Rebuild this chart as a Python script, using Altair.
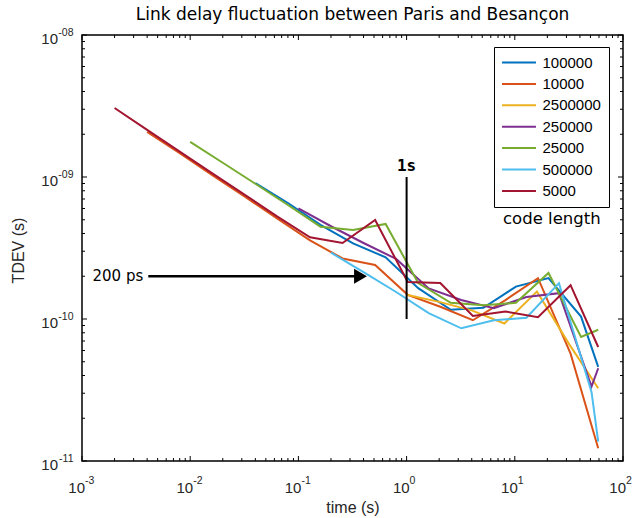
import altair as alt
import pandas as pd

TITLE = "Link delay fluctuation between Paris and Besançon"

series_names = ["100000", "10000", "2500000", "250000", "25000", "500000", "5000"]
series_colors = ["#0072BD", "#D95319", "#EDB120", "#7E2F8E", "#77AC30", "#4DBEEE", "#A2142F"]

tau_100000 = [0.04, 0.08, 0.16, 0.32, 0.64, 1.28, 2.56, 5.12, 10.24, 20.48, 40.96, 59]
tdev_100000 = [9.07e-10, 6.56e-10, 4.6e-10, 3.41e-10, 2.72e-10, 1.65e-10, 1.16e-10, 1.2e-10,
               1.69e-10, 1.94e-10, 1.04e-10, 4.6e-11]

tau_10000 = [0.004, 0.008, 0.016, 0.032, 0.064, 0.128, 0.256, 0.512, 1.024, 2.048, 4.096,
             8.192, 16.384, 32.768, 59]
tdev_10000 = [2.08e-9, 1.47e-9, 1.03e-9, 7.26e-10, 5.09e-10, 3.58e-10, 2.67e-10, 2.4e-10,
              1.48e-10, 1.22e-10, 9.8e-11, 1.36e-10, 1.94e-10, 5.7e-11, 1.23e-11]

tau_2500000 = [1, 2, 4, 8, 16, 32, 59]
tdev_2500000 = [1.48e-10, 1.32e-10, 1.15e-10, 9.3e-11, 1.56e-10, 6.6e-11, 3.25e-11]

tau_250000 = [0.1, 0.2, 0.4, 0.8, 1.6, 3.2, 6.4, 12.8, 25.6, 51.2, 59]
tdev_250000 = [6.02e-10, 4.5e-10, 3.43e-10, 2.65e-10, 1.64e-10, 1.36e-10, 1.19e-10, 1.43e-10,
               1.52e-10, 3.34e-11, 4.5e-11]

tau_25000 = [0.01, 0.02, 0.04, 0.08, 0.16, 0.32, 0.64, 1.28, 2.56, 5.12, 10.24, 20.48, 40.96, 59]
tdev_25000 = [1.77e-9, 1.26e-9, 8.96e-10, 6.35e-10, 4.47e-10, 4.24e-10, 4.67e-10, 1.79e-10,
              1.30e-10, 1.25e-10, 1.30e-10, 2.11e-10, 7.47e-11, 8.4e-11]

tau_500000 = [0.2, 0.4, 0.8, 1.6, 3.2, 6.4, 12.8, 25.6, 51.2, 59]
tdev_500000 = [2.93e-10, 2.14e-10, 1.55e-10, 1.10e-10, 8.6e-11, 9.8e-11, 1.02e-10, 1.79e-10,
               3.05e-11, 1.37e-11]

tau_5000 = [0.002, 0.004, 0.008, 0.016, 0.032, 0.064, 0.128, 0.256, 0.512, 1.024, 2.048,
            4.096, 8.192, 16.384, 32.768, 59]
tdev_5000 = [3.06e-9, 2.15e-9, 1.51e-9, 1.06e-9, 7.49e-10, 5.26e-10, 3.76e-10, 3.43e-10,
             4.98e-10, 1.82e-10, 1.79e-10, 1.05e-10, 1.13e-10, 1.03e-10, 1.73e-10, 6.35e-11]

# tick labels: base "10" with a superscript exponent
x_major = [0.001, 0.01, 0.1, 1, 10, 100]
x_exponents = ["-3", "-2", "-1", "0", "1", "2"]
y_major = [1e-11, 1e-10, 1e-9, 1e-8]
y_exponents = ["-11", "-10", "-09", "-08"]
tick_base = "10"
minor_multipliers = [2, 3, 4, 5, 6, 7, 8, 9]

# annotations
vline_tau = [1]
vline_lo = [1e-10]
vline_hi = [1e-9]
label_1s = ["1s"]
label_1s_y = [1.2e-9]
arrow_from = [0.0041]
arrow_to = [0.36]
arrow_tip = [0.375]
arrow_level = [2e-10]
arrow_text = ["200 ps"]
arrow_text_x = [0.00125]
legend_title = ["code length"]
legend_title_x = [22]
legend_title_y = [5.1e-10]

W, H = 541, 426
AX = "#262626"
MAJOR_LEN, MINOR_LEN = 5, 3

taus = [tau_100000, tau_10000, tau_2500000, tau_250000, tau_25000, tau_500000, tau_5000]
vals = [tdev_100000, tdev_10000, tdev_2500000, tdev_250000, tdev_25000, tdev_500000, tdev_5000]
rows = []
for name, ts, vs in zip(series_names, taus, vals):
    for i, (t, v) in enumerate(zip(ts, vs)):
        rows.append({"code": name, "tau": t, "tdev": v, "idx": i})
df = pd.DataFrame(rows)

x_minor = [m * d for d in x_major[:-1] for m in minor_multipliers]
y_minor = [m * d for d in y_major[:-1] for m in minor_multipliers]


def label_expr(values, labels):
    expr = "''"
    for v, lab in reversed(list(zip(values, labels))):
        expr = f"datum.value == {v!r} ? '{lab}' : ({expr})"
    return expr


xs = alt.Scale(type="log", domain=[x_major[0], x_major[-1]], nice=False)
ys = alt.Scale(type="log", domain=[y_major[0], y_major[-1]], nice=False)

LAB = dict(ticks=False, domain=False, grid=False, labelFont="Liberation Sans",
           labelColor=AX, labelFlush=False, labelOverlap=False)

# main axes: the "10" part of the labels plus axis titles
x_main = alt.Axis(orient="bottom", values=x_major, labelExpr=f"'{tick_base}'",
                  labelFontSize=15, labelAlign="right", labelBaseline="middle",
                  labelOffset=2.5, labelPadding=26,
                  title="time (s)", titleFont="Liberation Sans",
                  titleFontSize=16, titleFontWeight="normal", titleColor=AX,
                  titleX=W / 2, titleY=46, titleBaseline="middle", titleAlign="center", **LAB)
y_main = alt.Axis(orient="left", values=y_major, labelExpr=f"'{tick_base}'",
                  labelFontSize=15, labelAlign="right", labelBaseline="middle",
                  labelOffset=3, labelPadding=24.5,
                  title="TDEV (s)", titleFont="Liberation Sans",
                  titleFontSize=16, titleFontWeight="normal", titleColor=AX,
                  titleX=-64, titleY=H / 2 + 2, titleAngle=270, titleBaseline="middle",
                  titleAlign="center", **LAB)

# exponent axes
x_exp = alt.Axis(orient="bottom", values=x_major, labelExpr=label_expr(x_major, x_exponents),
                 labelFontSize=10.5, labelAlign="left", labelBaseline="middle",
                 labelOffset=2.5, labelPadding=19, title=None, **LAB)
y_exp = alt.Axis(orient="left", values=y_major, labelExpr=label_expr(y_major, y_exponents),
                 labelFontSize=10.5, labelAlign="right", labelBaseline="middle",
                 labelOffset=-3, labelPadding=9, title=None, **LAB)

lines = alt.Chart(df).mark_line(strokeWidth=2).encode(
    x=alt.X("tau:Q", scale=xs, axis=x_main),
    y=alt.Y("tdev:Q", scale=ys, axis=y_main),
    color=alt.Color("code:N", scale=alt.Scale(domain=series_names, range=series_colors),
                    legend=alt.Legend(title=None, orient="none", legendX=412, legendY=12,
                                      strokeColor="black", fillColor="white", padding=8,
                                      labelFont="Liberation Sans", labelFontSize=15,
                                      labelColor="black", symbolType="M-3,0H3",
                                      symbolSize=128, symbolStrokeWidth=2, symbolOffset=9.5,
                                      labelOffset=16, rowPadding=5.4, labelLimit=200)),
    order="idx:Q",
)

exp_layer = alt.Chart(df).mark_point(opacity=0).encode(
    x=alt.X("tau:Q", scale=xs, axis=x_exp),
    y=alt.Y("tdev:Q", scale=ys, axis=y_exp),
)

# inward-pointing tick marks on all four edges of the box (positions via the scales)
tick_layers = []
for xv, yv, L in [(x_major, y_major, MAJOR_LEN), (x_minor, y_minor, MINOR_LEN)]:
    xdf = pd.DataFrame({"v": xv})
    ydf = pd.DataFrame({"v": yv})
    for y0, y1 in [(H, H - L), (0, L)]:
        tick_layers.append(
            alt.Chart(xdf).mark_rule(color="black", strokeWidth=1).encode(
                x=alt.X("v:Q", scale=xs, axis=None), y=alt.value(y0), y2=alt.value(y1)))
    for x0, x1 in [(0, L), (W, W - L)]:
        tick_layers.append(
            alt.Chart(ydf).mark_rule(color="black", strokeWidth=1).encode(
                y=alt.Y("v:Q", scale=ys, axis=None), x=alt.value(x0), x2=alt.value(x1)))

vdf = pd.DataFrame({"tau": vline_tau, "lo": vline_lo, "hi": vline_hi, "txt": label_1s,
                    "ty": label_1s_y})
vline = alt.Chart(vdf).mark_rule(color="black", strokeWidth=2).encode(
    x=alt.X("tau:Q", scale=xs, axis=None),
    y=alt.Y("lo:Q", scale=ys, axis=None),
    y2="hi:Q",
)
t1s = alt.Chart(vdf).mark_text(font="DejaVu Sans Mono", fontSize=16, fontWeight="bold",
                               color="black", baseline="middle", align="center").encode(
    x=alt.X("tau:Q", scale=xs, axis=None),
    y=alt.Y("ty:Q", scale=ys, axis=None),
    text="txt:N",
)

adf = pd.DataFrame({"x0": arrow_from, "x1": arrow_to, "xt": arrow_tip, "y": arrow_level,
                    "txt": arrow_text, "tx": arrow_text_x})
arrow_line = alt.Chart(adf).mark_rule(color="black", strokeWidth=2.5).encode(
    x=alt.X("x0:Q", scale=xs, axis=None),
    x2="x1:Q",
    y=alt.Y("y:Q", scale=ys, axis=None),
)
arrow_head = alt.Chart(adf).mark_point(shape="triangle-right", size=220, filled=True,
                                       color="black", opacity=1).encode(
    x=alt.X("xt:Q", scale=xs, axis=None),
    y=alt.Y("y:Q", scale=ys, axis=None),
)
t200 = alt.Chart(adf).mark_text(font="DejaVu Sans", fontSize=15, color="black",
                                align="left", baseline="middle").encode(
    x=alt.X("tx:Q", scale=xs, axis=None),
    y=alt.Y("y:Q", scale=ys, axis=None),
    text="txt:N",
)

cdf = pd.DataFrame({"x": legend_title_x, "y": legend_title_y, "txt": legend_title})
tcode = alt.Chart(cdf).mark_text(font="DejaVu Sans", fontSize=16.5, color="black",
                                 align="center", baseline="middle").encode(
    x=alt.X("x:Q", scale=xs, axis=None),
    y=alt.Y("y:Q", scale=ys, axis=None),
    text="txt:N",
)

chart = alt.layer(
    lines, exp_layer, *tick_layers, vline, t1s, arrow_line, arrow_head, t200, tcode
).resolve_axis(
    x="independent", y="independent"
).properties(
    width=W, height=H,
    padding={"left": 82, "top": 35, "right": 13, "bottom": 57},
    autosize=alt.AutoSizeParams(type="none"),
    title=alt.TitleParams(TITLE, font="DejaVu Sans", fontSize=17, fontWeight="normal",
                          color="black", anchor="middle", frame="group", baseline="bottom",
                          offset=8, dy=22),
).configure_view(stroke="black", strokeWidth=1.5)

chart.save("out.html", embed_options={"renderer": "svg", "actions": False})
